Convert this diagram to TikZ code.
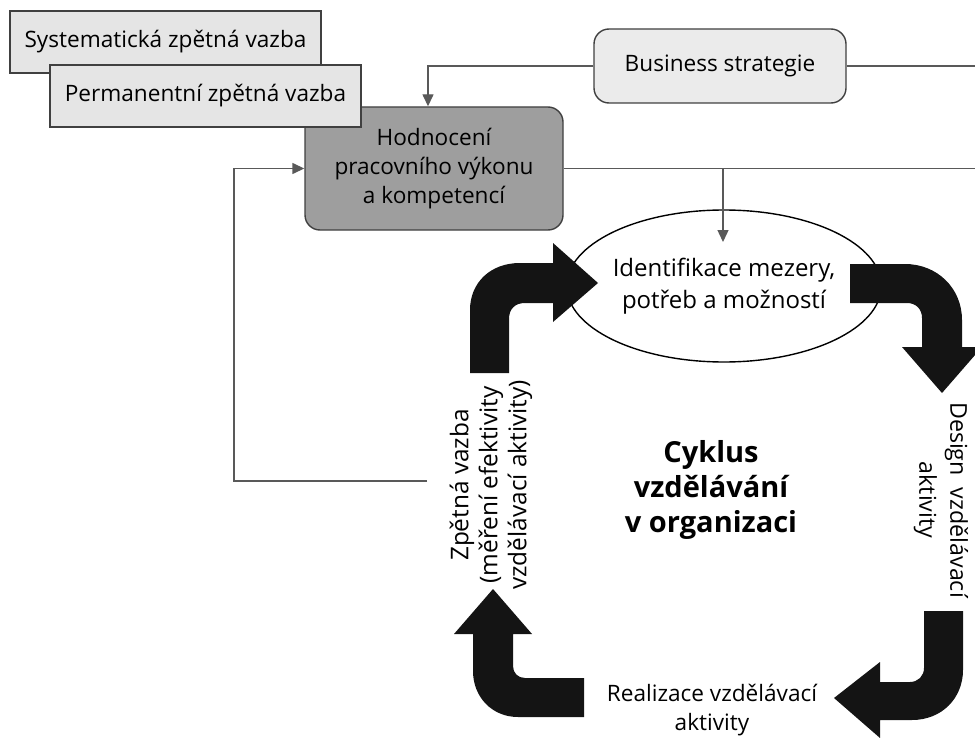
\documentclass[tikz,border=0pt]{standalone}
\usepackage{fontspec}
\setmainfont{Open Sans}
\usetikzlibrary{arrows.meta,shapes.geometric,calc}
\begin{document}
\begin{tikzpicture}[x=0.5pt,y=-0.5pt,
  txt/.style={font=\fontsize{11.3}{14.5}\selectfont, align=center, inner sep=0pt},
  lightbox/.style={txt, draw=black!75, line width=0.7pt, fill=black!10},
  darkbox/.style={txt, draw=black!75, line width=0.7pt, fill=black!38, rounded corners=7.5pt},
  conn/.style={draw=black!65, line width=0.7pt},
  tip/.style={-{Triangle[length=6pt,width=5.5pt]}},
  bigarrow/.style={fill=black!92, draw=none}]
\useasboundingbox (0,0) rectangle (975,738);

% boxes
\node[darkbox, minimum width=129pt, minimum height=61.5pt] (hod) at (434,168.5)
  {Hodnocen\'{\i}\\pracovn\'{\i}ho v\'ykonu\\a kompetenc\'{\i}};
\node[lightbox, minimum width=155.5pt, minimum height=31pt] (sys) at (165.5,42)
  {Systematická zpětná vazba};
\node[lightbox, minimum width=155.5pt, minimum height=31pt] (perm) at (205.5,96)
  {Permanentní zpětná vazba};
\node[lightbox, rounded corners=7.5pt, fill=black!8, minimum width=126pt, minimum height=37pt] (bus) at (720,66)
  {Business strategie};
\node[txt, draw=black, line width=0.7pt, fill=white, ellipse, minimum width=125pt, minimum height=76pt,
  font=\fontsize{12}{16}\selectfont] (ell) at (724,286)
  {Identifikace mezery,\\potřeb a možností};

% texts of the cycle
\node[txt, font=\bfseries\fontsize{14.5}{17.5}\selectfont] (cyk) at (711,490)
  {Cyklus\\vzdělávání\\v organizaci};
\node[txt, rotate=90, font=\fontsize{12.2}{14.5}\selectfont] (zpv) at (491,485)
  {Zpětná vazba\\(měření efektivity\\vzdělávací aktivity)};
\node[txt, rotate=-90, font=\fontsize{11.6}{15.5}\selectfont] (des) at (941,500)
  {Design\ \ vzdělávací\\aktivity};
\node[txt] (rea) at (712,710)
  {Realizace vzdělávací\\aktivity};

% connectors
\coordinate (busR) at (975,66);
\coordinate (hodR) at (975,168.5);
\coordinate (fbR) at (427,481);
\coordinate (fbL) at (234,481);
\coordinate (tap) at (723,168.5);
\coordinate (ellIn) at (723,242);
\draw[conn, tip] (bus.west) -| ([xshift=-3pt]hod.north);
\draw[conn] (bus.east) -- (busR);
\draw[conn] (hod.east) -- (hodR);
\draw[conn, tip] (tap) -- (ellIn);
\draw[conn, tip] (fbR) -- (fbL) |- (hod.west);

% big cycle arrows
\path[bigarrow] (470,373) -- (470,310) .. controls (470,283) and (490,263) .. (520,263)
  -- (553,263) -- (553,243) -- (598,283) -- (553,322) -- (553,303) -- (525,303)
  .. controls (515,303) and (509,309) .. (509,319) -- (509,373) -- cycle;
\path[bigarrow] (850,264) -- (905,264) .. controls (937,264) and (962,288) .. (962,320)
  -- (962,347) -- (982,347) -- (942,393) -- (902,347) -- (922,347) -- (922,318)
  .. controls (922,309) and (916,303) .. (907,303) -- (850,303) -- cycle;
\path[bigarrow] (963,611) -- (963,670) .. controls (963,698) and (942,720) .. (912,720)
  -- (880,720) -- (880,738) -- (834,698) -- (880,662) -- (880,682) -- (910,682)
  .. controls (918,682) and (924,676) .. (924,668) -- (924,611) -- cycle;
\path[bigarrow] (584,717) -- (518,717) .. controls (492,717) and (473,697) .. (473,671)
  -- (473,634) -- (454,634) -- (493,589) -- (532,634) -- (513,634) -- (513,666)
  .. controls (513,673) and (518,678) .. (525,678) -- (584,678) -- cycle;
\end{tikzpicture}
\end{document}
